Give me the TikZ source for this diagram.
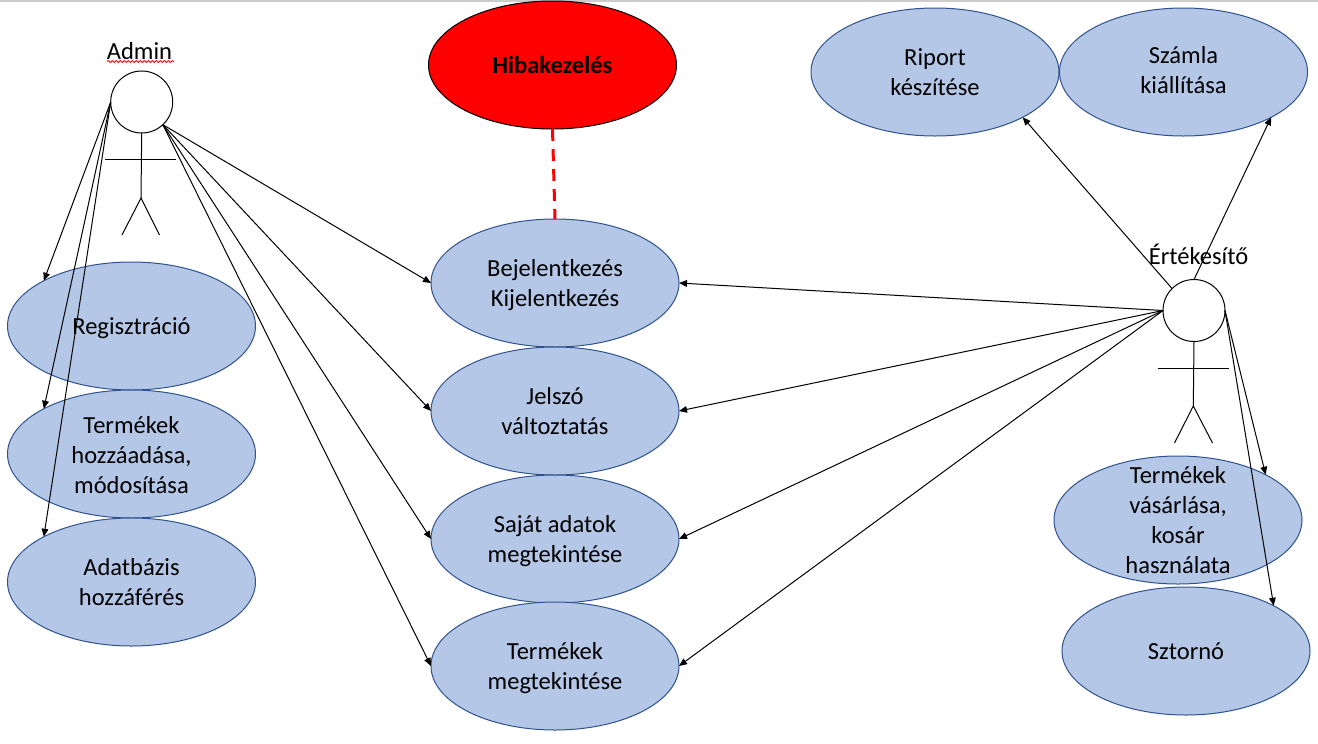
\documentclass[tikz,border=0pt]{standalone}
\usepackage{fontspec}
\setmainfont{Carlito}
\usetikzlibrary{shapes.geometric,arrows.meta,decorations.pathmorphing}
\definecolor{ellfill}{HTML}{B4C7E7}
\definecolor{elldraw}{HTML}{2F528F}
\newcommand{\txt}[2][0pt]{\smash{\raisebox{\dimexpr-0.32em+#1\relax}{\begin{tabular}{@{}c@{}}#2\end{tabular}}}}
\tikzset{
  x=0.75pt,y=-0.75pt,
  every node/.style={font=\fontsize{18.4}{22.5}\selectfont,text=black},
  usecase/.style={ellipse,draw=elldraw,fill=ellfill,line width=0.75pt,minimum width=186pt,minimum height=96pt,inner sep=0pt,outer sep=0pt},
  errcase/.style={usecase,draw=black,fill=red,font=\fontsize{18.4}{22.5}\selectfont\bfseries},
  head/.style={circle,draw=black,fill=white,line width=0.75pt,minimum size=46.5pt,inner sep=0pt,outer sep=0pt},
  limb/.style={draw=black,line width=0.75pt},
  link/.style={draw=black,line width=0.75pt,-{Triangle[length=6pt,width=5pt]}},
  errlink/.style={draw=red,line width=2.25pt,dash pattern=on 9pt off 6pt},
  actorname/.style={inner sep=0pt,outer sep=0pt}
}
\begin{document}
\begin{tikzpicture}
\useasboundingbox (0,0) rectangle (1318,743);
\fill[white] (0,0) rectangle (1318,743);
\fill[black!20] (0,0) rectangle (1318,1.5);

% use cases
\node[errcase] (hiba) at (552.5,65) {\txt{Hibakezelés}};
\node[usecase] (login) at (555,283) {\txt{Bejelentkezés\\Kijelentkezés}};
\node[usecase] (jelszo) at (555,411) {\txt{Jelszó\\változtatás}};
\node[usecase] (sajat) at (555,539) {\txt{Saját adatok\\megtekintése}};
\node[usecase] (megtek) at (555,666) {\txt{Termékek\\megtekintése}};
\node[usecase] (reg) at (131.5,326) {\txt{Regisztráció}};
\node[usecase] (hozza) at (131.5,454) {\txt[-0.75pt]{Termékek\\hozzáadása,\\módosítása}};
\node[usecase] (adat) at (131.5,582) {\txt{Adatbázis\\hozzáférés}};
\node[usecase] (riport) at (935,72) {\txt{Riport\\készítése}};
\node[usecase] (szamla) at (1183.5,72) {\txt[1.5pt]{Számla\\kiállítása}};
\node[usecase] (vasar) at (1178,520) {\txt{Termékek\\vásárlása,\\kosár\\használata}};
\node[usecase] (sztorno) at (1186,651) {\txt{Sztornó}};

% Admin actor
\node[actorname] (adminname) at (139.5,51) {Admin};
\node[head] (adminhead) at (141.7,102) {};
\coordinate (adminhip) at (141,198);
\coordinate (adminarml) at (105,159);
\coordinate (adminarmr) at (176,159);
\coordinate (adminfootl) at (122,235);
\coordinate (adminfootr) at (159.5,235);
\draw[limb] (adminhead.south) -- (adminhip);
\draw[limb] (adminarml) -- (adminarmr);
\draw[limb] (adminfootl) -- (adminhip) -- (adminfootr);
\coordinate (sqa) at (107,61.5);
\coordinate (sqb) at (174,61.5);
\draw[red,line width=0.6pt,decorate,decoration={snake,amplitude=0.7pt,segment length=3pt}] (sqa) -- (sqb);

% Seller actor
\node[actorname] (sellername) at (1198.5,254) {Értékesítő};
\node[head] (sellerhead) at (1194,310.5) {};
\coordinate (sellerhip) at (1193.3,406);
\coordinate (sellerarml) at (1157.5,368);
\coordinate (sellerarmr) at (1229,368);
\coordinate (sellerfootl) at (1174.5,443);
\coordinate (sellerfootr) at (1212.5,443);
\draw[limb] (sellerhead.south) -- (sellerhip);
\draw[limb] (sellerarml) -- (sellerarmr);
\draw[limb] (sellerfootl) -- (sellerhip) -- (sellerfootr);

% connectors
\draw[errlink] (hiba.south) -- (login.north);
\foreach \t in {reg,hozza,adat} \draw[link] (adminhead.west) -- (\t.north west);
\foreach \t in {login,jelszo,sajat,megtek} \draw[link] (adminhead.-47) -- (\t.west);
\foreach \t in {login,jelszo,sajat,megtek} \draw[link] (sellerhead.west) -- (\t.east);
\draw[link] (sellerhead.north west) -- (riport.south east);
\draw[link] (sellerhead.north) -- (szamla.south east);
\draw[link] (sellerhead.east) -- (vasar.north east);
\draw[link] (sellerhead.east) -- (sztorno.north east);
\end{tikzpicture}
\end{document}
